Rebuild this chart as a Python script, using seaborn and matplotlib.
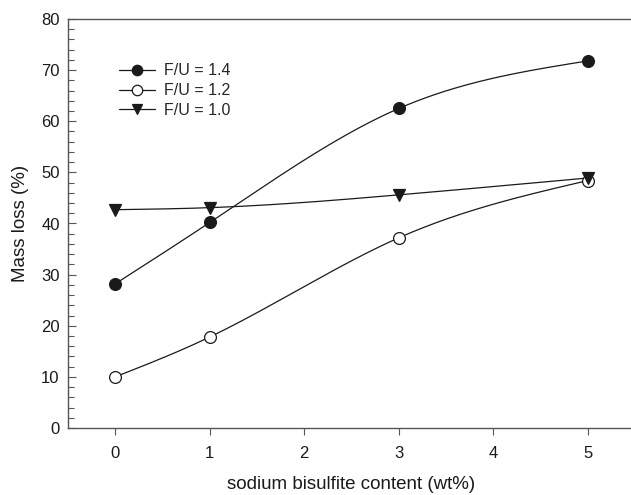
import numpy as np
import pandas as pd
import matplotlib
matplotlib.use("Agg")
import matplotlib.pyplot as plt
from matplotlib.lines import Line2D
import seaborn as sns

# ---- data ----
x_vals = [0, 1, 3, 5]
fu14 = [28.2, 40.2, 62.5, 71.8]
fu12 = [10.0, 17.8, 37.2, 48.4]
fu10 = [42.7, 43.1, 45.6, 48.9]
series_labels = ["F/U = 1.4", "F/U = 1.2", "F/U = 1.0"]
x_ticks = [0, 1, 2, 3, 4, 5]
y_ticks = [0, 10, 20, 30, 40, 50, 60, 70, 80]


def natural_spline(x, y, n=200):
    x = np.asarray(x, float)
    y = np.asarray(y, float)
    k = len(x)
    h = np.diff(x)
    A = np.zeros((k, k))
    b = np.zeros(k)
    A[0, 0] = 1
    A[-1, -1] = 1
    for i in range(1, k - 1):
        A[i, i - 1] = h[i - 1]
        A[i, i] = 2 * (h[i - 1] + h[i])
        A[i, i + 1] = h[i]
        b[i] = 6 * ((y[i + 1] - y[i]) / h[i] - (y[i] - y[i - 1]) / h[i - 1])
    M = np.linalg.solve(A, b)
    xs = np.linspace(x[0], x[-1], n)
    idx = np.clip(np.searchsorted(x, xs) - 1, 0, k - 2)
    x0, x1 = x[idx], x[idx + 1]
    hh = x1 - x0
    ys = (M[idx] * (x1 - xs) ** 3 / (6 * hh) + M[idx + 1] * (xs - x0) ** 3 / (6 * hh)
          + (y[idx] / hh - M[idx] * hh / 6) * (x1 - xs)
          + (y[idx + 1] / hh - M[idx + 1] * hh / 6) * (xs - x0))
    return xs, ys


sns.set_style("ticks")
plt.rcParams["font.family"] = ["Liberation Sans", "DejaVu Sans"]

fig = plt.figure(figsize=(6.31, 4.95), dpi=100)
ax = fig.add_axes([68 / 631, (495 - 428) / 495, (635 - 68) / 631, (428 - 19) / 495])

line_color = "#1a1a1a"
styles = [
    (fu14, "o", line_color),
    (fu12, "o", "white"),
    (fu10, "v", line_color),
]

handles = []
for (vals, mk, fc), lab in zip(styles, series_labels):
    xs, ys = natural_spline(x_vals, vals)
    sns.lineplot(x=xs, y=ys, ax=ax, color=line_color, linewidth=0.9, sort=False, zorder=2)
    ax.plot(x_vals, vals, linestyle="none", marker=mk, markersize=8.5,
            markerfacecolor=fc, markeredgecolor=line_color, markeredgewidth=0.9, zorder=3)
    handles.append(Line2D([0], [0], color=line_color, linewidth=0.9, marker=mk,
                          markersize=7.5, markerfacecolor=fc, markeredgecolor=line_color,
                          markeredgewidth=0.9, label=lab))

ax.set_xlim(-0.5, 5.5)
ax.set_ylim(0, 80)
ax.set_xticks(x_ticks)
ax.set_yticks(y_ticks)
ax.set_yticks(np.arange(0, 81, 2), minor=True)
ax.tick_params(axis="y", which="both", direction="in", colors="#555555", labelcolor="#1a1a1a",
               labelsize=12, width=0.8)
ax.tick_params(axis="y", which="major", length=6)
ax.tick_params(axis="y", which="minor", length=4)
ax.tick_params(axis="x", direction="out", length=5, colors="#555555", labelcolor="#1a1a1a",
               labelsize=12, width=0.8, pad=8)
ax.tick_params(axis="y", pad=6)
for s in ax.spines.values():
    s.set_color("#555555")
    s.set_linewidth(1.0)
ax.spines["right"].set_visible(False)

ax.set_xlabel("sodium bisulfite content (wt%)", fontsize=13.5, color="#1a1a1a", labelpad=11)
ax.set_ylabel("Mass loss (%)", fontsize=13.5, color="#1a1a1a", labelpad=9)

leg = ax.legend(handles=handles, loc="upper left", bbox_to_anchor=(0.078, 0.907),
                frameon=False, fontsize=11.5, handlelength=2.3, handletextpad=0.55,
                labelspacing=0.3, borderaxespad=0)

fig.savefig("out.png", dpi=100)
